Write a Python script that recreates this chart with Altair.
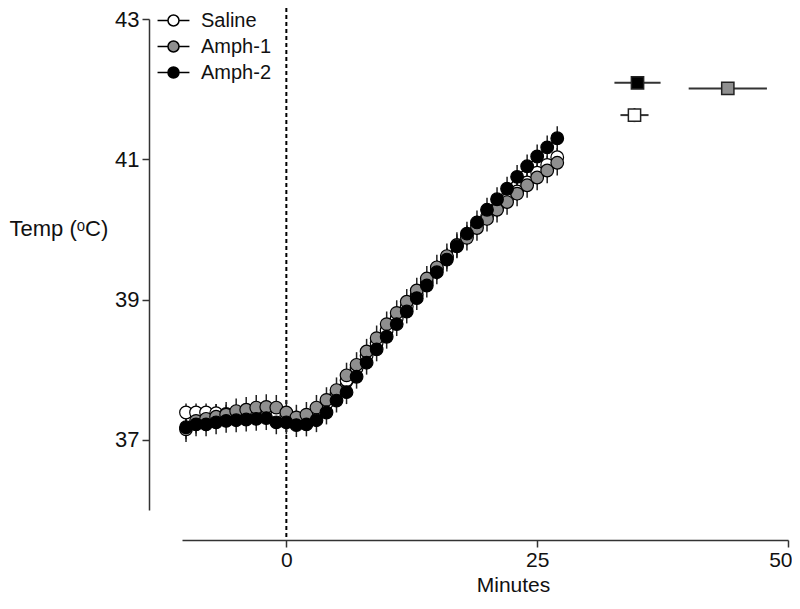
import altair as alt
import pandas as pd

# ---- data ----
series_names = ["Saline", "Amph-1", "Amph-2"]
series_fill = ["#ffffff", "#8f8f8f", "#000000"]

minutes = list(range(-10, 28))

saline = [37.39, 37.39, 37.39, 37.38, 37.37, 37.37, 37.36, 37.35, 37.34, 37.33,
          37.34, 37.29, 37.30, 37.40, 37.52, 37.66, 37.85, 38.02, 38.20, 38.38,
          38.56, 38.73, 38.90, 39.07, 39.25, 39.43, 39.60, 39.77, 39.92, 40.06,
          40.18, 40.30, 40.42, 40.54, 40.67, 40.81, 40.92, 41.03]
amph1 = [37.15, 37.27, 37.30, 37.33, 37.36, 37.41, 37.43, 37.46, 37.47, 37.46,
         37.39, 37.32, 37.36, 37.46, 37.57, 37.71, 37.92, 38.07, 38.26, 38.45,
         38.65, 38.81, 38.97, 39.13, 39.30, 39.46, 39.62, 39.78, 39.88, 40.02,
         40.15, 40.28, 40.39, 40.51, 40.63, 40.74, 40.84, 40.95]
amph2 = [37.18, 37.22, 37.22, 37.25, 37.27, 37.28, 37.29, 37.30, 37.31, 37.25,
         37.25, 37.21, 37.22, 37.28, 37.39, 37.56, 37.68, 37.90, 38.10, 38.29,
         38.47, 38.65, 38.83, 39.02, 39.20, 39.39, 39.57, 39.76, 39.94, 40.10,
         40.28, 40.43, 40.58, 40.75, 40.90, 41.04, 41.17, 41.30]

saline_sem = [0.13] * 38
amph1_sem = [0.18] * 38
amph2_sem = [0.17] * 38

# peak temperature and time to peak (squares at right)
peak_series = ["Amph-2", "Saline", "Amph-1"]
peak_time = [35.0, 34.7, 44.0]
peak_time_err = [2.3, 1.4, 3.9]
peak_temp = [42.09, 41.63, 42.01]
peak_temp_err = [0.02, 0.10, 0.09]

# ---- tables ----
rows = []
for k, (name, vals, sems) in enumerate(zip(series_names, [saline, amph1, amph2],
                                             [saline_sem, amph1_sem, amph2_sem])):
    for t, v, s in zip(minutes, vals, sems):
        rows.append({"series": name, "ord": k, "t": t, "temp": v,
                     "lo": v - s, "hi": v + s})
df = pd.DataFrame(rows)

peaks = pd.DataFrame({
    "series": peak_series,
    "t": peak_time,
    "tlo": [a - b for a, b in zip(peak_time, peak_time_err)],
    "thi": [a + b for a, b in zip(peak_time, peak_time_err)],
    "temp": peak_temp,
    "ylo": [a - b for a, b in zip(peak_temp, peak_temp_err)],
    "yhi": [a + b for a, b in zip(peak_temp, peak_temp_err)],
})

W, H = 606, 491
XOFF, YOFF = 30, 33
FONT = "Liberation Sans"
AX = "#333333"
FS = 22
FSX = 21

xscale = alt.Scale(domain=[-10.4, 50], nice=False, zero=False)
yscale = alt.Scale(domain=[36, 43], nice=False, zero=False)

xaxis = alt.Axis(values=[0, 25, 50], offset=XOFF, title="Minutes", grid=False,
                 format="d", labelFlush=True, labelFlushOffset=4,
                 domainColor=AX, domainWidth=1.5, tickColor=AX, tickWidth=1.5,
                 tickSize=7, labelFontSize=FSX, labelFont=FONT, labelColor="#111",
                 labelPadding=2, titleFont=FONT, titleFontSize=FSX,
                 titleFontWeight="normal", titleColor="#111",
                 titleX=331, titleY=45, titleBaseline="middle")
yaxis = alt.Axis(values=[37, 39, 41, 43], offset=YOFF, title="Temp (\u1d52C)",
                 format="d",
                 grid=False, domainColor=AX, domainWidth=1.5, tickColor=AX,
                 tickWidth=1.5, tickSize=7, labelFontSize=FS, labelFont=FONT,
                 labelColor="#111", labelPadding=3, titleFont=FONT,
                 titleFontSize=FS, titleFontWeight="normal", titleColor="#111",
                 titleAngle=0, titleAlign="left", titleBaseline="middle",
                 titleX=-140, titleY=209)

fill_scale = alt.Scale(domain=series_names, range=series_fill)

# legend glyph: short line with a circle in the middle
legend_symbol = ("M-1.1,0H-0.38M0.38,0H1.1"
                 "M0.38,0A0.38,0.38 0 1,1 -0.38,0A0.38,0.38 0 1,1 0.38,0Z")

base = alt.Chart(df)

vline = alt.Chart(pd.DataFrame({"t": [0]})).mark_rule(
    color="black", strokeWidth=2, strokeDash=[4, 3]
).encode(
    x=alt.X("t:Q", scale=xscale, axis=xaxis),
    y=alt.value(-11),
    y2=alt.value(H + XOFF),
)

errs = base.mark_rule(color="#222222", strokeWidth=1.5).encode(
    x=alt.X("t:Q", scale=xscale),
    y=alt.Y("lo:Q", scale=yscale, axis=yaxis),
    y2="hi:Q",
    detail="series:N",
)

lines = base.mark_line(color="black", strokeWidth=1.5).encode(
    x=alt.X("t:Q", scale=xscale),
    y=alt.Y("temp:Q", scale=yscale),
    detail="series:N",
)

points = base.mark_point(shape="circle", filled=True, size=160, stroke="black",
                         strokeWidth=1.2, opacity=1).encode(
    x=alt.X("t:Q", scale=xscale),
    y=alt.Y("temp:Q", scale=yscale),
    fill=alt.Fill("series:N", scale=fill_scale, sort=series_names,
                  legend=alt.Legend(title=None, orient="none", legendX=-24,
                                    legendY=-14, symbolType=legend_symbol,
                                    symbolSize=841, symbolStrokeColor="black",
                                    symbolStrokeWidth=1.5, symbolOpacity=1,
                                    labelFont=FONT, labelFontSize=20,
                                    labelColor="#111", labelOffset=12,
                                    rowPadding=0, padding=0)),
    order=alt.Order("ord:Q"),
)

pbase = alt.Chart(peaks)
p_h = pbase.mark_rule(color="#333333", strokeWidth=2).encode(
    x=alt.X("tlo:Q", scale=xscale), x2="thi:Q",
    y=alt.Y("temp:Q", scale=yscale),
)
p_v = pbase.mark_rule(color="#333333", strokeWidth=2).encode(
    x=alt.X("t:Q", scale=xscale),
    y=alt.Y("ylo:Q", scale=yscale), y2="yhi:Q",
)
p_sq = pbase.mark_point(shape="square", filled=True, size=150, stroke="#222222",
                        strokeWidth=1.5, opacity=1).encode(
    x=alt.X("t:Q", scale=xscale),
    y=alt.Y("temp:Q", scale=yscale),
    fill=alt.Fill("series:N", scale=fill_scale, legend=None),
)

chart = alt.layer(vline, errs, lines, points, p_h, p_v, p_sq).properties(
    width=W, height=H,
    autosize=alt.AutoSizeParams(type="none"),
    padding={"left": 174, "top": 11, "right": 4, "bottom": 87},
    background="white",
).configure_view(stroke=None)

chart.save("out.html", embed_options={"renderer": "svg", "actions": False})
